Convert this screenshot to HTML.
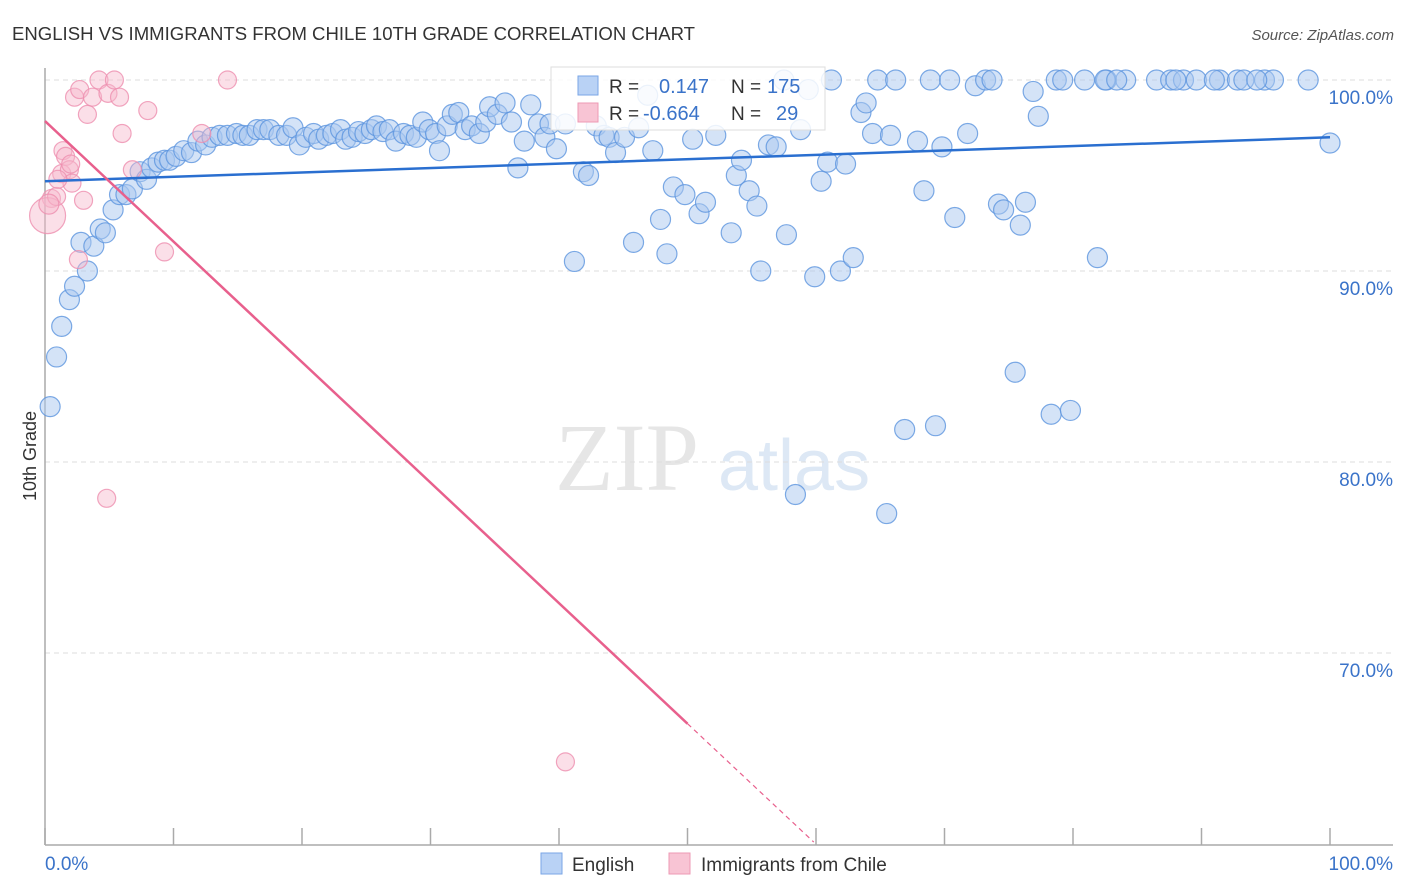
<!DOCTYPE html>
<html><head><meta charset="utf-8"><style>
body{margin:0;background:#fff;font-family:"Liberation Sans",sans-serif;}
#wrap{position:relative;width:1406px;height:892px;overflow:hidden;}
</style></head><body>
<div id="wrap">
<svg id="svg" width="1406" height="892" xmlns="http://www.w3.org/2000/svg">
<text x="12" y="40" font-size="18" fill="#333" textLength="683" lengthAdjust="spacingAndGlyphs">ENGLISH VS IMMIGRANTS FROM CHILE 10TH GRADE CORRELATION CHART</text>
<text x="1394" y="40" font-size="15" fill="#555" font-style="italic" text-anchor="end">Source: ZipAtlas.com</text>
<text x="36" y="456" font-size="18" fill="#333" text-anchor="middle" transform="rotate(-90 36 456)">10th Grade</text>
<text x="555" y="490" font-size="96" fill="#e6e6e6" font-family="Liberation Serif,serif">ZIP</text>
<text x="718" y="490" font-size="72" fill="#dde8f5">atlas</text>
<g id="grid"></g><g id="axes"></g><g id="blue"></g><g id="pink"></g><g id="lines"></g>
<g>
<rect x="551" y="67" width="274" height="63" fill="#fff" fill-opacity="0.85" stroke="#ddd"/>
<rect x="578" y="76" width="20" height="19" fill="#b9d2f5" stroke="#7aa6e6"/>
<rect x="578" y="103" width="20" height="19" fill="#f8c4d4" stroke="#ee9ab4"/>
<text x="609" y="93" font-size="19" fill="#333">R =</text><text x="659" y="93" font-size="20" fill="#3a73c9">0.147</text>
<text x="731" y="93" font-size="19" fill="#333">N =</text><text x="767" y="93" font-size="20" fill="#3a73c9">175</text>
<text x="609" y="120" font-size="19" fill="#333">R =</text><text x="643" y="120" font-size="20" fill="#3a73c9">-0.664</text>
<text x="731" y="120" font-size="19" fill="#333">N =</text><text x="776" y="120" font-size="20" fill="#3a73c9">29</text>
</g>
<g>
<rect x="541" y="853" width="21" height="21" fill="#b9d2f5" stroke="#7aa6e6"/>
<text x="572" y="871" font-size="19" fill="#333">English</text>
<rect x="669" y="853" width="21" height="21" fill="#f8c4d4" stroke="#ee9ab4"/>
<text x="701" y="871" font-size="19" fill="#333">Immigrants from Chile</text>
</g>
</svg>
</div>
<script>
const blueX=[0.4,0.9,1.3,1.9,2.3,3.3,2.8,3.8,4.3,4.7,5.3,5.8,6.3,6.8,7.4,7.9,8.3,8.8,9.3,9.7,10.2,10.8,11.4,11.9,12.5,13.0,13.6,14.2,14.9,15.4,15.9,16.5,17.0,17.5,18.2,18.8,19.3,19.8,20.3,20.9,21.3,21.9,22.4,23.0,23.4,23.9,24.4,24.9,25.4,25.8,26.3,26.8,27.3,27.9,28.4,28.9,29.4,29.9,30.4,30.7,31.3,31.7,32.2,32.7,33.2,33.8,34.3,34.6,35.2,35.8,36.3,36.8,37.3,37.8,38.4,38.9,39.3,39.8,40.5,41.2,41.9,42.3,42.9,43.5,43.9,44.4,45.1,45.8,46.2,46.9,47.3,47.9,48.4,48.9,49.8,50.4,50.9,51.4,52.2,53.4,53.8,54.2,54.8,55.4,55.7,56.3,56.9,57.5,57.7,58.4,58.8,59.4,59.9,60.4,60.9,61.2,61.9,62.3,62.9,63.5,63.9,64.4,64.8,65.5,65.8,66.2,66.9,67.9,68.4,68.9,69.3,69.8,70.4,70.8,71.8,72.4,73.2,73.7,74.2,74.6,75.5,75.9,76.3,76.9,77.3,78.3,78.7,79.2,79.8,80.9,81.9,82.6,84.1,86.5,87.6,88.6,89.6,91.4,92.8,93.3,94.9,95.6,98.3,100,82.5,83.4,88.0,91.0,94.3];
const blueY=[82.9,85.5,87.1,88.5,89.2,90.0,91.5,91.3,92.2,92.0,93.2,94.0,94.0,94.3,95.2,94.8,95.4,95.7,95.8,95.8,96.0,96.3,96.2,96.8,96.6,97.0,97.1,97.1,97.2,97.1,97.1,97.4,97.4,97.4,97.1,97.1,97.5,96.6,97.0,97.2,96.9,97.1,97.2,97.4,96.9,97.0,97.3,97.2,97.4,97.6,97.3,97.4,96.8,97.2,97.1,97.0,97.8,97.4,97.2,96.3,97.6,98.2,98.3,97.4,97.6,97.2,97.8,98.6,98.2,98.8,97.8,95.4,96.8,98.7,97.7,97.0,97.7,96.4,97.7,90.5,95.2,95.0,97.6,97.1,97.0,96.2,97.0,91.5,97.5,99.2,96.3,92.7,90.9,94.4,94.0,96.9,93.0,93.6,97.1,92.0,95.0,95.8,94.2,93.4,90.0,96.6,96.5,100,91.9,78.3,97.4,99.5,89.7,94.7,95.7,100,90.0,95.6,90.7,98.3,98.8,97.2,100,77.3,97.1,100,81.7,96.8,94.2,100,81.9,96.5,100,92.8,97.2,99.7,100,100,93.5,93.2,84.7,92.4,93.6,99.4,98.1,82.5,100,100,82.7,100,90.7,100,100,100,100,100,100,100,100,100,100,100,100,96.7,100,100,100,100,100];
const pinkX=[0.5,0.2,0.9,1.3,1.4,1.6,1.9,2.1,2.3,2.6,2.7,3.0,3.3,3.7,4.2,4.9,4.8,5.4,5.8,6.0,6.8,8.0,9.3,12.2,14.2,40.5,0.3,1.0,2.0];
const pinkY=[93.8,92.9,93.9,95.1,96.3,96.0,95.3,94.6,99.1,90.6,99.5,93.7,98.2,99.1,100,99.3,78.1,100,99.1,97.2,95.3,98.4,91.0,97.2,100,64.3,93.5,94.8,95.6];
const pinkR=[9,18,9,9,9,9,9,9,9,9,9,9,9,9,9,9,9,9,9,9,9,9,9,9,9,9,10,9,9];
const blueTrend=[94.7,97.0];
const pinkTrend=[97.85,-0.631];
const yTicks=[100,90,80,70];
const xTickLabels=["0.0%","100.0%"];
const NS="http://www.w3.org/2000/svg";
const X=v=>45+v*12.85, Y=v=>80+(100-v)*19.1;
function mk(tag,attrs,parent){const e=document.createElementNS(NS,tag);for(const k in attrs)e.setAttribute(k,attrs[k]);document.getElementById(parent).appendChild(e);return e;}
yTicks.forEach(t=>{
 const l=mk('line',{x1:45,x2:1393,y1:Y(t),y2:Y(t),stroke:'#ddd','stroke-dasharray':'5,4'},'grid');
 
 
 const tx=mk('text',{x:1393,y:Y(t)+24,'font-size':19,fill:'#3a73c9','text-anchor':'end'},'grid');
 tx.textContent=t.toFixed(1)+'%';
 
 
});
const ax=mk('line',{x1:45,x2:45,y1:68,y2:845,stroke:'#aaa','stroke-width':1.5},'axes');


const bx=mk('line',{x1:45,x2:1393,y1:845,y2:845,stroke:'#aaa','stroke-width':1.5},'axes');


for(let i=0;i<=10;i++){
 const tk=mk('line',{x1:X(i*10),x2:X(i*10),y1:828,y2:845,stroke:'#aaa','stroke-width':1.5},'axes');
 
 
}
[[0,'start'],[100,'end']].forEach((p,i)=>{
 const t=mk('text',{x:X(p[0])+(i?63:0),y:870,'font-size':19,fill:'#3a73c9','text-anchor':p[1]},'axes');
 t.textContent=xTickLabels[i];
 
 
});
blueX.forEach((x,i)=>{
 const c=mk('circle',{cx:X(x),cy:Y(blueY[i]),r:10,fill:'#a9c8f0','fill-opacity':0.5,stroke:'#5d95de','stroke-opacity':0.8,'stroke-width':1.2},'blue');
 
 
});
pinkX.forEach((x,i)=>{
 const c=mk('circle',{cx:X(x),cy:Y(pinkY[i]),r:pinkR[i],fill:'#f7b8cb','fill-opacity':0.45,stroke:'#ee8faf','stroke-opacity':0.8,'stroke-width':1.2},'pink');
 
 
});
const bl=mk('line',{x1:X(0),y1:Y(blueTrend[0]),x2:X(100),y2:Y(blueTrend[1]),stroke:'#2a6fd0','stroke-width':2.5},'lines');


const pe=50, pd=(60.1-pinkTrend[0])/pinkTrend[1];
const pl=mk('line',{x1:X(0),y1:Y(pinkTrend[0]),x2:X(pe),y2:Y(pinkTrend[0]+pinkTrend[1]*pe),stroke:'#e8608d','stroke-width':2.5},'lines');


const pdl=mk('line',{x1:X(pe),y1:Y(pinkTrend[0]+pinkTrend[1]*pe),x2:X(pd),y2:Y(60.1),stroke:'#e8608d','stroke-width':1.2,'stroke-dasharray':'5,4'},'lines');


</script>
</body></html>
